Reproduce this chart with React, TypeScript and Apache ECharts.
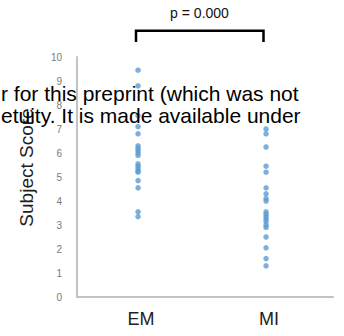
import React, { useEffect, useRef } from "react";
import * as echarts from "echarts";

const categories = ["EM", "MI"];
const emScores = [9.45, 8.8, 7.55, 7.1, 6.8, 6.3, 6.2, 6.1, 6.0, 5.9, 5.55, 5.45, 5.35, 5.25, 5.2, 4.85, 4.55, 3.55, 3.35];
const miScores = [7.0, 6.8, 6.25, 5.45, 5.2, 4.55, 4.3, 4.1, 4.0, 3.55, 3.45, 3.35, 3.25, 3.15, 3.0, 2.9, 2.5, 2.05, 1.6, 1.3];
const yTicks = [0, 1, 2, 3, 4, 5, 6, 7, 8, 9, 10];
const yTitle = "Subject Score";
const pLabel = "p = 0.000";
const overlayLines = ["r for this preprint (which was not", "etuity. It is made available under"];

const FONT = "'Liberation Sans', Arial, sans-serif";

export default function App() {
  const ref = useRef<HTMLDivElement>(null);
  useEffect(() => {
    if (!ref.current) return;
    const chart = echarts.init(ref.current, null, { renderer: "svg" });
    const points: number[][] = [];
    emScores.forEach((v) => points.push([0, v]));
    miScores.forEach((v) => points.push([1, v]));
    chart.setOption({
      animation: false,
      textStyle: { fontFamily: FONT },
      grid: { left: 77, right: 11, top: 57, bottom: 39 },
      xAxis: [
        {
          type: "category",
          data: categories,
          boundaryGap: true,
          axisLine: { show: true, onZero: false, lineStyle: { color: "#c3c3c3", width: 2 } },
          axisTick: { show: false },
          axisLabel: { color: "#222", fontSize: 18, margin: 13, fontFamily: FONT },
          splitLine: { show: false },
        },
        {
          type: "value",
          min: -0.477,
          max: 1.523,
          show: false,
          axisLine: { show: false, onZero: false },
          splitLine: { show: false },
        },
      ],
      yAxis: {
        type: "value",
        min: yTicks[0],
        max: yTicks[yTicks.length - 1],
        interval: 1,
        axisLine: { show: true, onZero: false, lineStyle: { color: "#c3c3c3", width: 2 } },
        axisTick: { show: false },
        splitLine: { show: false },
        axisLabel: { color: "#7a7a7a", fontSize: 10, margin: 15, fontFamily: FONT },
      },
      series: [
        {
          type: "scatter",
          xAxisIndex: 1,
          data: points,
          symbol: "circle",
          symbolSize: 5.5,
          itemStyle: { color: "#5b9bd5" },
        },
      ],
      graphic: [
        {
          type: "text",
          x: 26,
          y: 167.5,
          rotation: Math.PI / 2,
          style: {
            text: yTitle,
            fill: "#222",
            font: `19px ${FONT}`,
            textAlign: "center",
            textVerticalAlign: "middle",
          },
        },
        {
          type: "polyline",
          shape: { points: [[136, 42], [136, 30.7], [263.5, 30.7], [263.5, 42]] },
          style: { stroke: "#000", lineWidth: 2.5, fill: "none" },
        },
        {
          type: "text",
          x: 199.5,
          y: 13,
          style: {
            text: pLabel,
            fill: "#111",
            font: `14px ${FONT}`,
            textAlign: "center",
            textVerticalAlign: "middle",
          },
        },
        {
          type: "text",
          x: 1,
          y: 93,
          z: 100,
          style: {
            text: overlayLines[0],
            fill: "#000",
            font: `21px ${FONT}`,
            textAlign: "left",
            textVerticalAlign: "middle",
          },
        },
        {
          type: "text",
          x: 1,
          y: 115.5,
          z: 100,
          style: {
            text: overlayLines[1],
            fill: "#000",
            font: `21px ${FONT}`,
            textAlign: "left",
            textVerticalAlign: "middle",
          },
        },
      ],
    });
    return () => chart.dispose();
  }, []);
  return (
    <div
      ref={ref}
      style={{ position: "fixed", left: 0, top: 0, width: 344, height: 336, background: "#fff" }}
    />
  );
}
